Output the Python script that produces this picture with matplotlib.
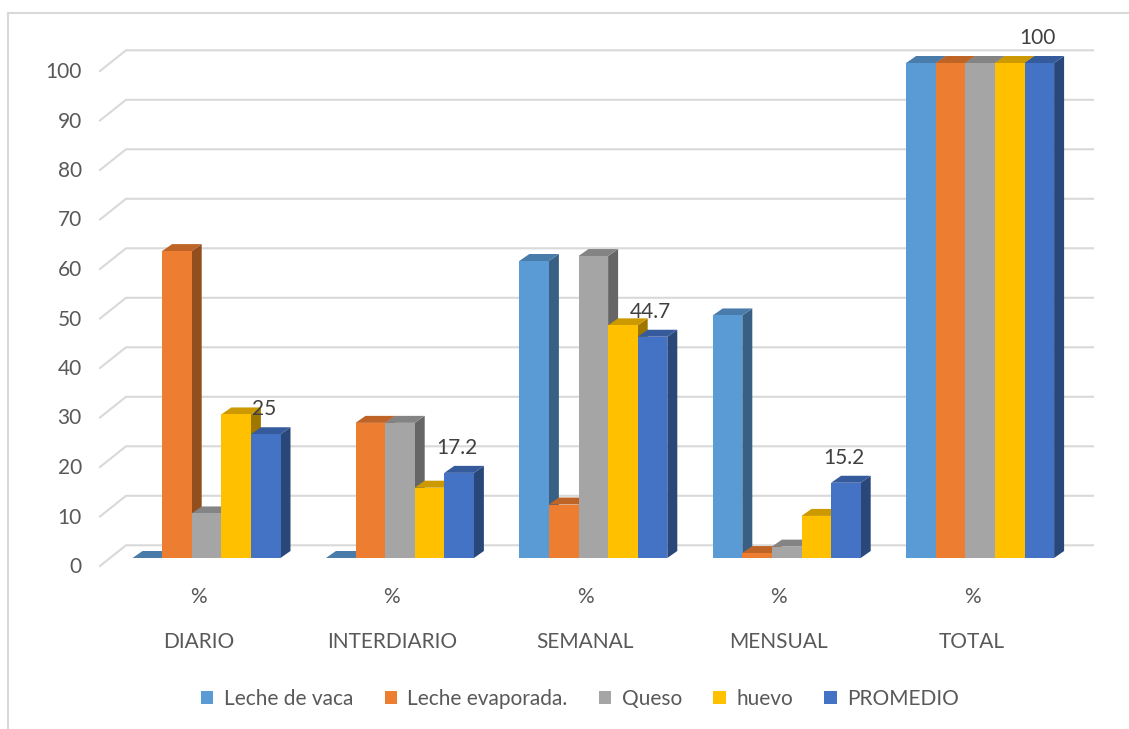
import numpy as np
import matplotlib.pyplot as plt
from matplotlib.patches import Polygon, Patch
from matplotlib.colors import to_rgb

plt.rcParams['font.family'] = ['Lato', 'DejaVu Sans']

# data
categories = ['DIARIO', 'INTERDIARIO', 'SEMANAL', 'MENSUAL', 'TOTAL']
sub_label = '%'
series = ['Leche de vaca', 'Leche evaporada.', 'Queso', 'huevo', 'PROMEDIO']
leche_vaca = [0, 0, 60.0, 49.0, 100]
leche_evap = [62.0, 27.3, 10.8, 1.0, 100]
queso = [9.0, 27.3, 61.0, 2.3, 100]
huevo = [29.0, 14.2, 47.0, 8.5, 100]
promedio = [25, 17.2, 44.7, 15.2, 100]
colors = ['#5B9BD5', '#ED7D31', '#A5A5A5', '#FFC000', '#4472C4']

values = [leche_vaca, leche_evap, queso, huevo, promedio]

W, H = 1129, 729
fig = plt.figure(figsize=(W / 100, H / 100), dpi=100)
# front plane of the bars: value 0 at y=558 px, 100 at y=63 px
ax = fig.add_axes([109.8 / W, (H - 558) / H, 967 / W, 495 / H])
ax.set_xlim(-0.5, 4.5)
ax.set_ylim(0, 100)
ax.axis('off')

px = 5 / 967.0    # one pixel in x units
py = 100 / 495.0  # one pixel in y units

grid_col = '#d9d9d9'
text_col = '#595959'
fs = 15

# back wall gridlines with the left wall diagonal
back_dy = 12.7 * py
front_x = -0.5 - 9.8 * px
wall_x = -0.5 + 16.2 * px
right_x = -0.5 + 983.2 * px
for v in range(0, 101, 10):
    ax.plot([front_x, wall_x, right_x], [v - 8 * py, v + back_dy, v + back_dy],
            color=grid_col, lw=1.5, clip_on=False, zorder=1)
    ax.text(-0.5 - 28 * px, v - 9 * py, str(v), ha='right', va='center',
            fontsize=fs, color=text_col)

# 3d bars
bw = 29.6 * px
ddx = 10 * px
ddy = 7 * py


def shade(c, f):
    r, g, b = to_rgb(c)
    return (r * f, g * f, b * f)


z = 2
for i in range(len(categories)):
    for j in range(len(series)):
        v = values[j][i]
        x0 = i + (j - 2.5) * bw
        x1 = x0 + bw
        c = colors[j]
        side = Polygon([(x1, 0), (x1 + ddx, ddy), (x1 + ddx, v + ddy), (x1, v)],
                       closed=True, fc=shade(c, 0.62), ec='none', zorder=z, clip_on=False)
        top = Polygon([(x0, v), (x1, v), (x1 + ddx, v + ddy), (x0 + ddx, v + ddy)],
                      closed=True, fc=shade(c, 0.8), ec='none', zorder=z, clip_on=False)
        front = Polygon([(x0, 0), (x1, 0), (x1, v), (x0, v)],
                        closed=True, fc=c, ec='none', zorder=z + 0.1, clip_on=False)
        ax.add_patch(side)
        ax.add_patch(top)
        ax.add_patch(front)
        z += 0.2
    # label for the PROMEDIO series
    xb = i + 1.5 * bw + bw / 2 - 2 * px
    ax.text(xb, promedio[i] + 25 * py, f'{promedio[i]:g}', ha='center', va='center',
            fontsize=fs, color='#404040', zorder=50)
    ax.text(i - 8 * px, -39 * py, sub_label, ha='center', va='center',
            fontsize=fs, color=text_col)
    ax.text(i - 8 * px, -84 * py, categories[i], ha='center', va='center',
            fontsize=fs, color=text_col)

handles = [Patch(fc=c, ec='none') for c in colors]
fig.legend(handles, series, loc='center', bbox_to_anchor=(580 / W, 1 - 699 / H),
           ncol=5, frameon=False, fontsize=fs, handlelength=0.6, handleheight=0.6,
           handletextpad=0.5, columnspacing=1.5, labelcolor=text_col)

# chart area border (top and left visible)
fig.add_artist(plt.Line2D([8 / W, 8 / W], [0, 1 - 13 / H], color=grid_col, lw=1.5))
fig.add_artist(plt.Line2D([8 / W, 1], [1 - 13 / H, 1 - 13 / H], color=grid_col, lw=1.5))

fig.savefig('out.png', dpi=100)
